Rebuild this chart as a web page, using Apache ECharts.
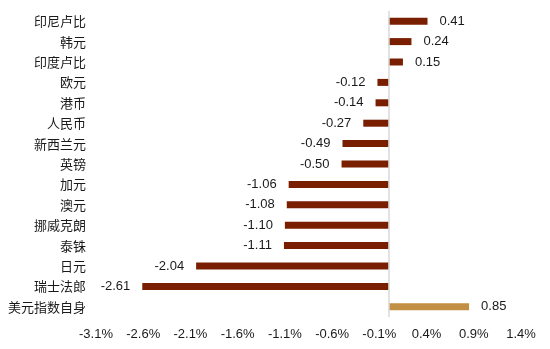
<!DOCTYPE html>
<html>
<head>
<meta charset="utf-8">
<script src="https://cdn.jsdelivr.net/npm/echarts@6/dist/echarts.min.js"></script>
<style>html,body{margin:0;padding:0;background:#fff;}#c{width:550px;height:349px;}</style>
</head>
<body>
<div id="c"></div>
<script>
var categories = ['印尼卢比','韩元','印度卢比','欧元','港币','人民币','新西兰元','英镑','加元','澳元','挪威克朗','泰铢','日元','瑞士法郎','美元指数自身'];
var values = [0.41, 0.24, 0.15, -0.12, -0.14, -0.27, -0.49, -0.50, -1.06, -1.08, -1.10, -1.11, -2.04, -2.61, 0.85];
var highlightCategory = '美元指数自身';
var tickLabels = [-3.1, -2.6, -2.1, -1.6, -1.1, -0.6, -0.1, 0.4, 0.9, 1.4];

var FONT = "'Liberation Sans', Arial, 'Noto Sans CJK SC', sans-serif";
var chart = echarts.init(document.getElementById('c'), null, {renderer: 'canvas'});
var data = values.map(function (v, i) {
  var item = {
    value: v,
    label: { position: v < 0 ? 'left' : 'right' }
  };
  if (categories[i] === highlightCategory) {
    item.itemStyle = { color: '#C38F45' };
  }
  return item;
});
chart.setOption({
  animation: false,
  backgroundColor: '#fff',
  grid: { left: 96, right: 29, top: 11, bottom: 32 },
  xAxis: {
    type: 'value',
    min: tickLabels[0],
    max: tickLabels[tickLabels.length - 1],
    axisLine: { show: false },
    axisTick: { show: false },
    splitLine: { show: false },
    axisLabel: {
      customValues: tickLabels,
      formatter: function (v) { return v.toFixed(1) + '%'; },
      fontSize: 13,
      color: '#1a1a1a',
      fontFamily: FONT,
      margin: 11
    }
  },
  yAxis: {
    type: 'category',
    data: categories,
    inverse: true,
    axisLine: { show: false },
    axisTick: { show: false },
    splitLine: { show: false },
    axisLabel: {
      fontSize: 13,
      color: '#1a1a1a',
      fontFamily: "'Noto Sans CJK SC', sans-serif",
      margin: 10
    }
  },
  series: [{
    type: 'bar',
    data: data,
    barWidth: 7,
    itemStyle: { color: '#7A1E00' },
    label: {
      show: true,
      distance: 12,
      fontSize: 13,
      color: '#1a1a1a',
      fontFamily: FONT,
      formatter: function (p) { return p.value.toFixed(2); }
    },
    markLine: {
      silent: true,
      symbol: 'none',
      label: { show: false },
      lineStyle: { color: '#d9d9d9', width: 1.5, type: 'solid' },
      data: [{ xAxis: 0 }]
    }
  }]
});
</script>
</body>
</html>
